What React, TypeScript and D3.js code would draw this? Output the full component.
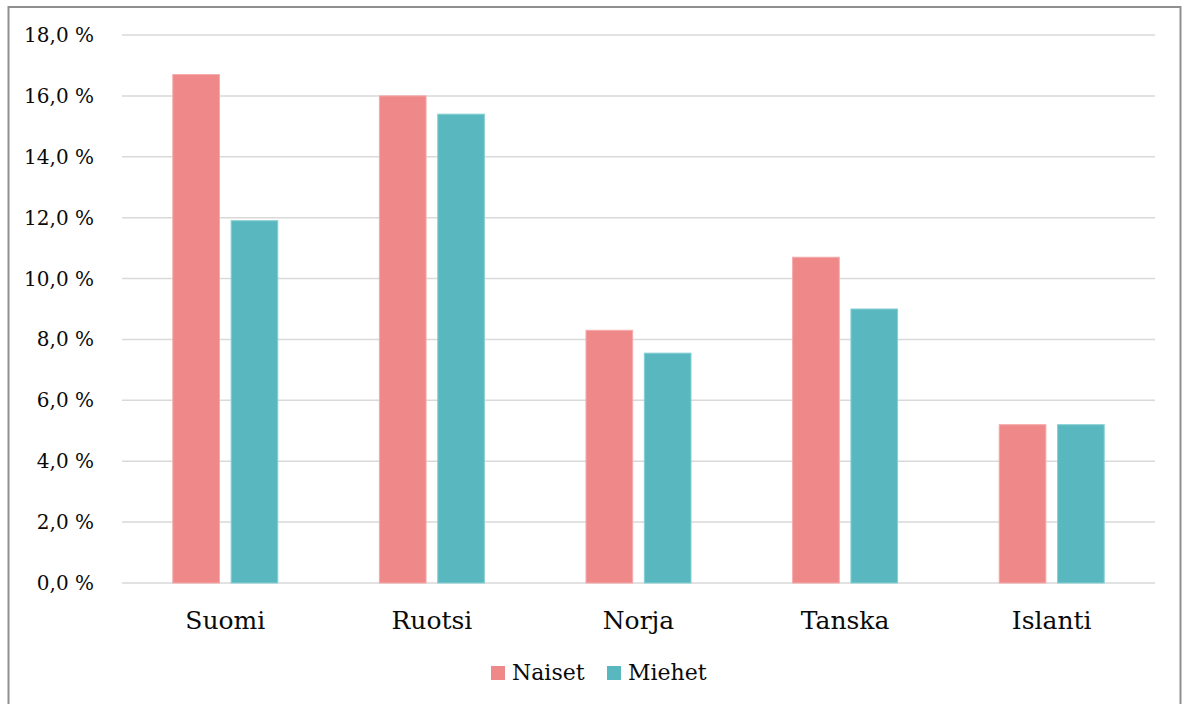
import React from "react";
import * as d3 from "d3";

const categories = ["Suomi", "Ruotsi", "Norja", "Tanska", "Islanti"];
const seriesNames = ["Naiset", "Miehet"];
const naiset = [16.7, 16.0, 8.3, 10.7, 5.2];
const miehet = [11.9, 15.4, 7.55, 9.0, 5.2];
const yTicks = [0, 2, 4, 6, 8, 10, 12, 14, 16, 18];
const colors = ["#EF8888", "#59B8BF"];
const strokes = ["#F6AAAA", "#86D0D4"];

const W = 1186;
const H = 704;
const FONT = "'DejaVu Serif', 'Liberation Serif', serif";

export default function App() {
  const plotLeft = 122;
  const plotRight = 1155;
  const y = d3.scaleLinear().domain([0, 18]).range([583, 35]);
  const x0 = d3.scaleBand<string>().domain(categories).range([plotLeft, plotRight]).paddingInner(0).paddingOuter(0);
  const pairHalf = 52.5;
  const x1 = d3.scaleBand<string>().domain(seriesNames).range([-pairHalf, pairHalf]).paddingInner(0.2).paddingOuter(0);
  const values = [naiset, miehet];
  const fmt = (v: number) => d3.format(".1f")(v).replace(".", ",") + " %";

  return (
    <svg width={W} height={H} style={{ position: "absolute", left: 0, top: 0, background: "#fff" }}>
      <rect x={0} y={0} width={W} height={H} fill="#fff" />
      {/* frame */}
      <path d={`M8.5,${H + 5} V7 H1180.5 V${H + 5}`} fill="none" stroke="#8f8f8f" strokeWidth={2} />
      {/* grid */}
      {yTicks.map((t) => (
        <g key={t}>
          <line x1={plotLeft} x2={plotRight} y1={y(t)} y2={y(t)} stroke="#d9d9d9" strokeWidth={1.5} />
          <text x={94} y={y(t) + 7} textAnchor="end" fontFamily={FONT} fontSize={20} fill="#0a0a0a">
            {fmt(t)}
          </text>
        </g>
      ))}
      {/* bars */}
      {categories.map((c, i) => {
        const cx = (x0(c) as number) + x0.bandwidth() / 2;
        return (
          <g key={c}>
            {seriesNames.map((s, j) => {
              const v = values[j][i];
              return (
                <rect
                  key={s}
                  x={cx + (x1(s) as number)}
                  y={y(v)}
                  width={x1.bandwidth()}
                  height={y(0) - y(v)}
                  fill={colors[j]}
                  stroke={strokes[j]}
                  strokeWidth={1}
                />
              );
            })}
            <text x={cx} y={629} textAnchor="middle" fontFamily={FONT} fontSize={25} fill="#0a0a0a">
              {c}
            </text>
          </g>
        );
      })}
      {/* legend */}
      {seriesNames.map((s, j) => {
        const lx = [491, 607][j];
        return (
          <g key={s}>
            <rect x={lx} y={666} width={14} height={14} fill={colors[j]} />
            <text x={lx + 21} y={680} fontFamily={FONT} fontSize={22} fill="#0a0a0a">
              {s}
            </text>
          </g>
        );
      })}
    </svg>
  );
}
